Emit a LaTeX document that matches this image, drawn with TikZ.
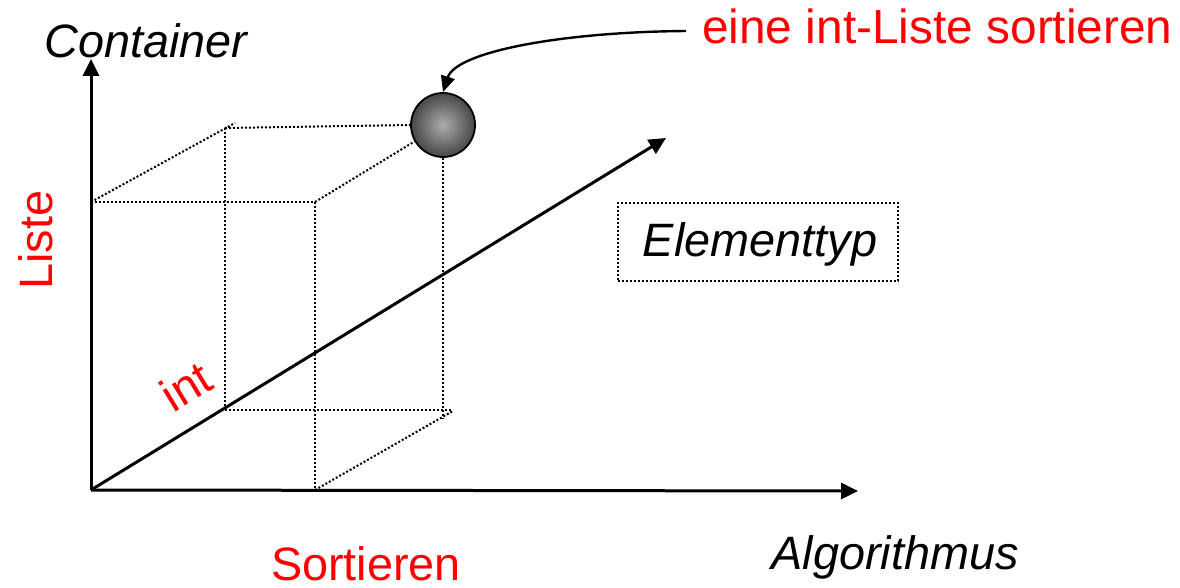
\documentclass[tikz,border=0pt]{standalone}
\usepackage{fontspec}
\setmainfont{Liberation Sans}
\usetikzlibrary{arrows.meta}
\definecolor{lblred}{RGB}{255,0,0}
\begin{document}
\begin{tikzpicture}[x=1bp,y=-1bp,
 axis/.style={line width=3bp,-{Triangle[length=17bp,width=16bp]}},
 guide/.style={line width=2bp,dash pattern=on 2bp off 2bp},
 redlbl/.style={text=lblred,font=\fontsize{47}{50}\selectfont,inner sep=0pt},
 blacklbl/.style={font=\fontsize{47}{50}\selectfont\itshape,inner sep=0pt},
]
\useasboundingbox (0,0) rectangle (1180,588);
% named points
\coordinate (O) at (91,490);
\coordinate (Ytip) at (91,59);
\coordinate (Xtip) at (858,491);
\coordinate (Ztip) at (666,138);
\coordinate (FTL) at (91,202);
\coordinate (FTR) at (315,202);
\coordinate (FBR) at (315,490);
\coordinate (BTL) at (225,128);
\coordinate (BTLx) at (235,123);
\coordinate (BBL) at (225,410);
\coordinate (BBRx) at (453,410);
\coordinate (BBRd) at (453,411);
\coordinate (BRbot) at (443,418);
\coordinate (cstart) at (686,31);
% ball
\node[circle,draw,line width=1.8bp,minimum size=64bp,inner sep=0pt,
      inner color=gray!65!white,outer color=black!72] (ball) at (443,125) {};
% dotted cube
\draw[guide] (FTL) -- (FTR);
\draw[guide] (FTL) -- (BTLx);
\draw[guide] (BTL) -- (ball.west);
\draw[guide] (BTL) -- (BBL);
\draw[guide] (FTR) -- (FBR);
\draw[guide] (FTR) -- (ball.-150);
\draw[guide] (ball.south) -- (BRbot);
\draw[guide] (BBL) -- (BBRx);
\draw[guide] (FBR) -- (BBRd);
% axes
\draw[axis] (O) -- (Ytip);
\draw[axis] (O) -- (Xtip);
\draw[axis] (O) -- (Ztip);
% labels
\node[blacklbl,anchor=base] (container) at (146,58) {Container};
\node[redlbl,anchor=base,rotate=90] (liste) at (52,240) {Liste};
\node[redlbl,anchor=center,rotate=31.4] (int) at (186,386) {int};
\node[redlbl,anchor=base] (sort) at (366,580) {Sortieren};
\node[blacklbl,anchor=base] (algo) at (895,569) {Algorithmus};
\node[draw,guide,blacklbl,minimum width=280bp,minimum height=77bp] (elem) at (758,242) {};
\node[blacklbl,anchor=base] (elemtxt) at (760,257) {Elementtyp};
\node[redlbl,anchor=base west,font=\fontsize{48}{50}\selectfont] (note) at (702,44) {eine int-Liste sortieren};
% curved arrow
\draw[line width=2.4bp,-{Triangle[length=16bp,width=14bp]}] (cstart) .. controls (560,32) and (456,52) .. (ball.north);
\end{tikzpicture}
\end{document}
